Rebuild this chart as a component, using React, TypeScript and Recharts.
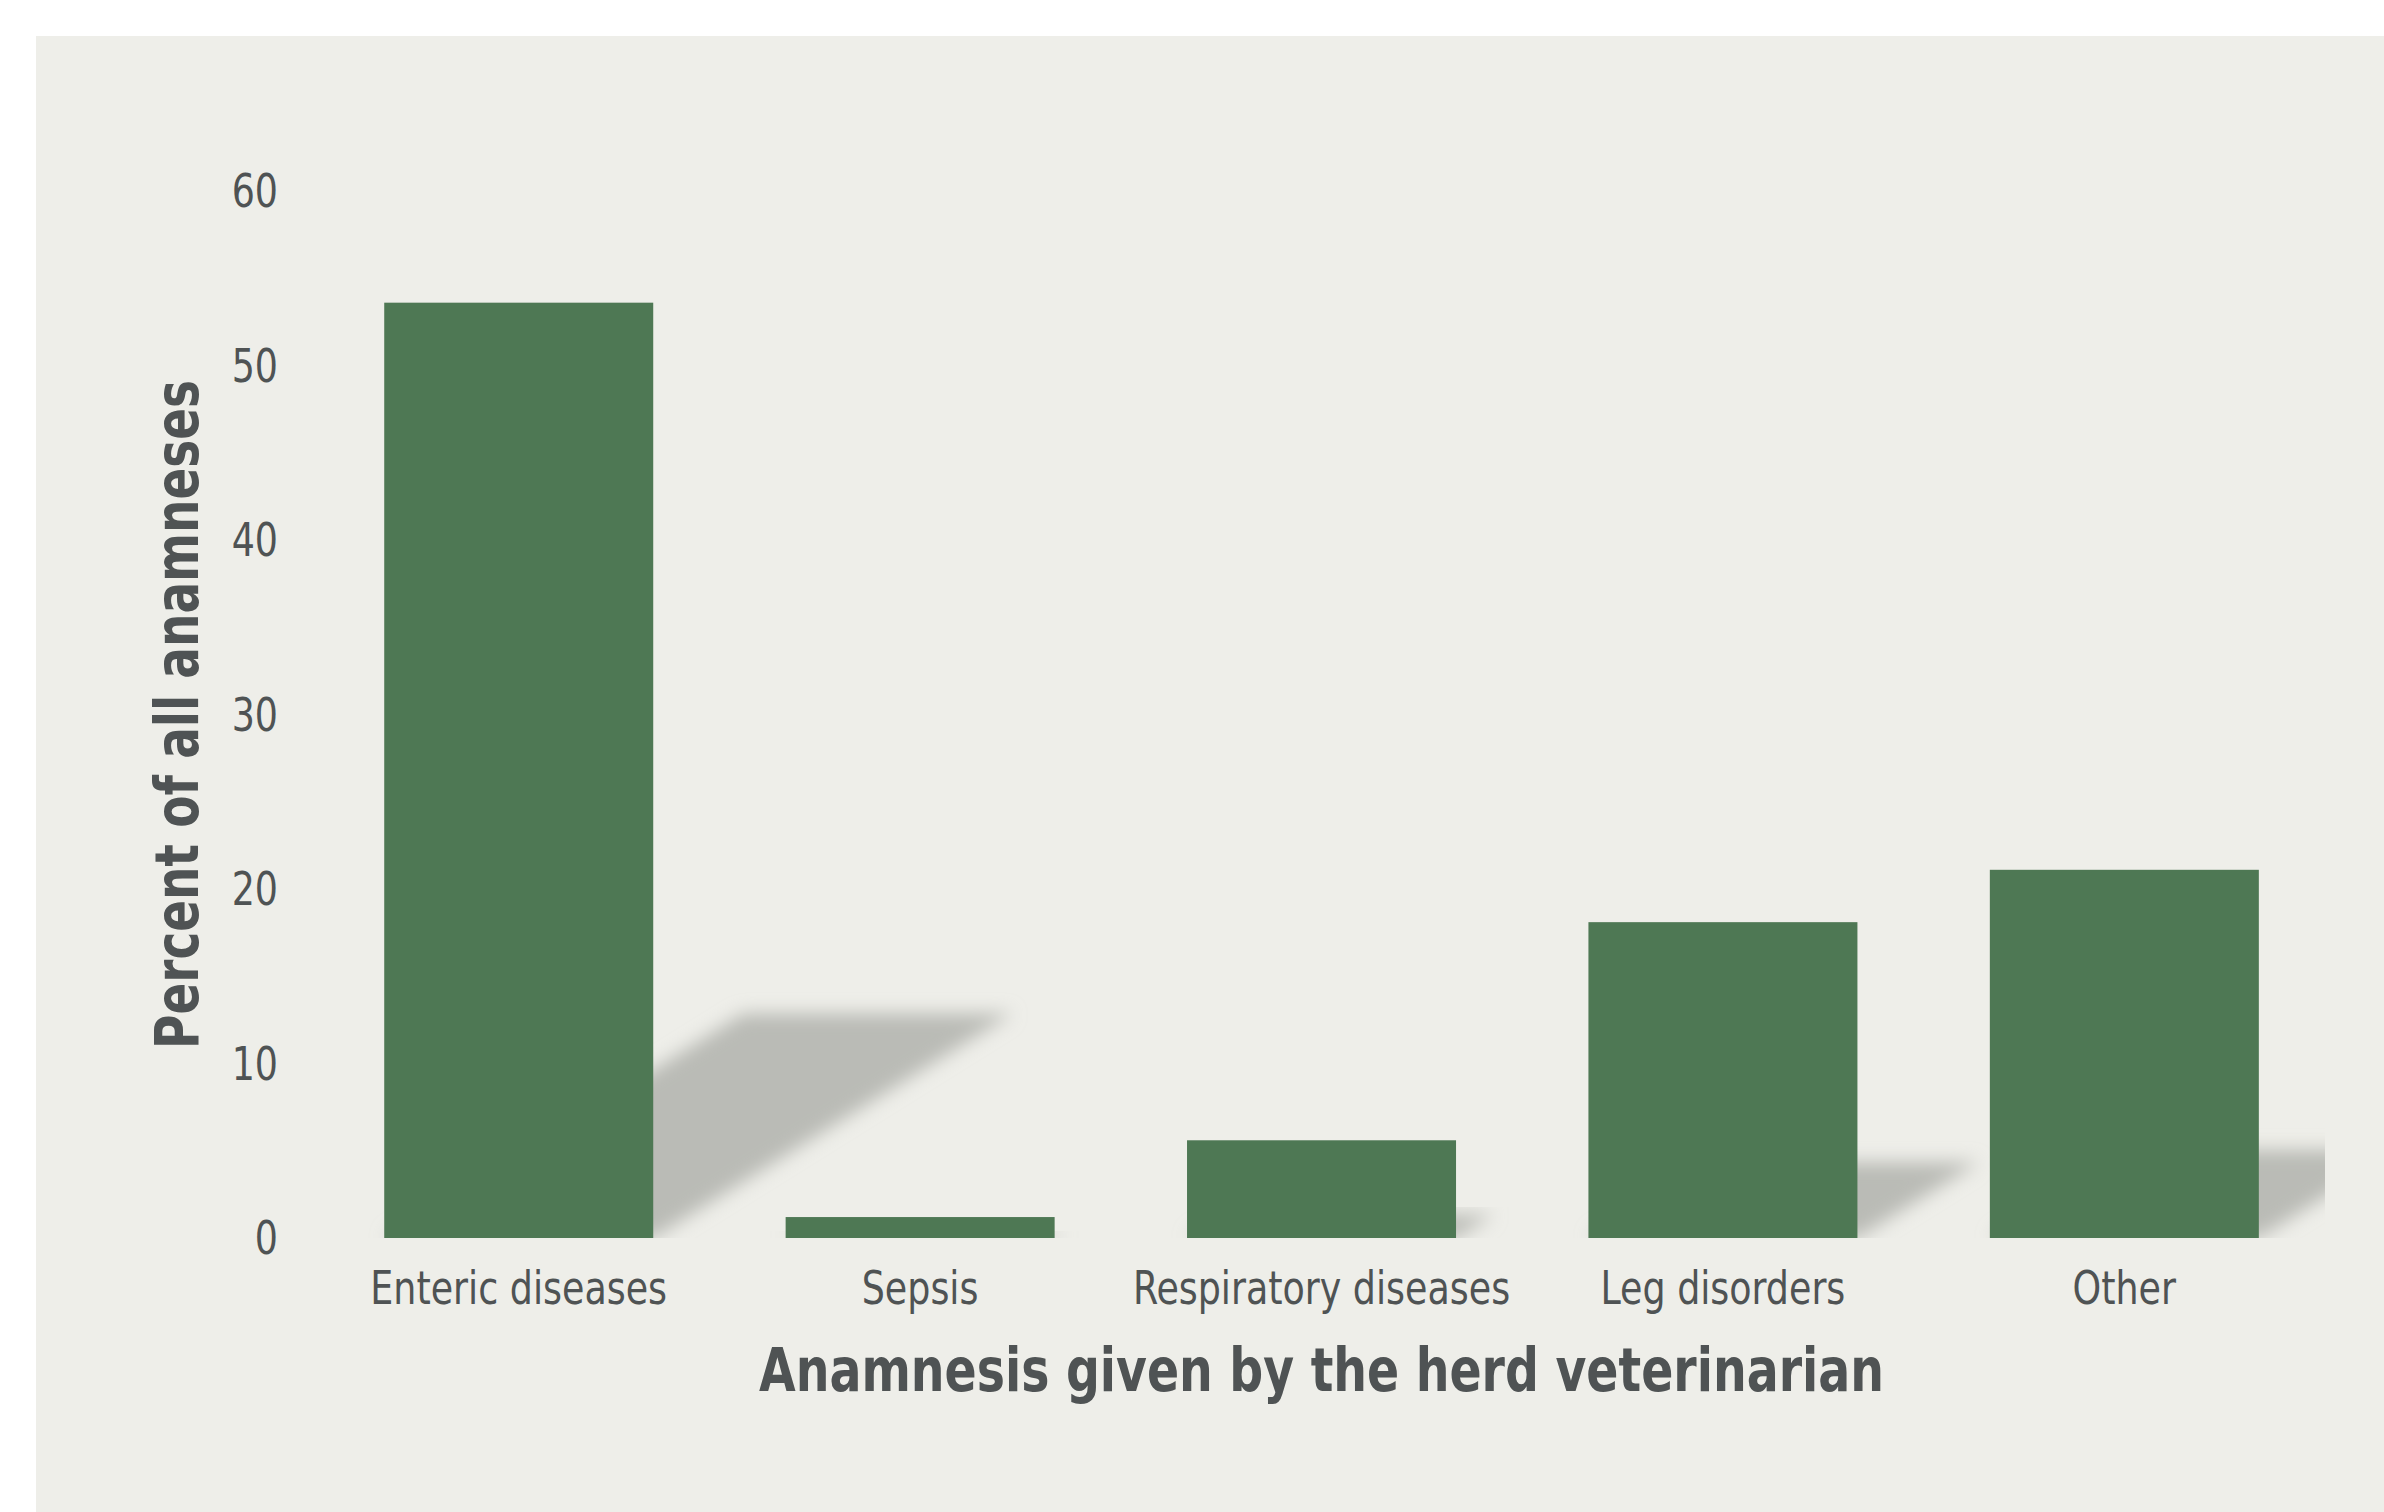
import React from "react";
import { BarChart, Bar, XAxis, YAxis, Label } from "recharts";

const CATEGORIES = [
  "Enteric diseases",
  "Sepsis",
  "Respiratory diseases",
  "Leg disorders",
  "Other",
];
const PERCENT = [53.6, 1.2, 5.6, 18.1, 21.1];
const Y_TICKS = [0, 10, 20, 30, 40, 50, 60];

const DATA = CATEGORIES.map((name, i) => ({ name, v: PERCENT[i] }));

const GREEN = "#4e7854";
const PANEL = "#eeeee9";
const SHADOW = "#babbb6";
const TEXT = "#4f5354";
const FONT = "'DejaVu Sans Condensed', 'Liberation Sans Narrow', sans-serif";

const W = 2384;
const H = 1512;
const PLOT_RIGHT = 2325;
const SQUEEZE = 0.88;

// condensed tick text, squeezed sideways round its anchor
function Tick(props: any) {
  const { x, y, payload, textAnchor, dy, axis } = props;
  const isX = axis === "x";
  return (
    <g transform={`translate(${x},${y}) scale(${SQUEEZE},1)`}>
      <text
        x={0}
        y={0}
        dy={isX ? "0.71em" : "0.355em"}
        textAnchor={textAnchor}
        fill={TEXT}
        fontSize={46}
        fontFamily={FONT}
      >
        {payload.value}
      </text>
    </g>
  );
}

// bar with the soft sheared drop shadow behind it
function ShadowBar(props: any) {
  const { x, y, width, height, index } = props;
  if (!height || height <= 0) return null;
  const base = y + height;
  const sh = height * 0.24;
  const dx = sh * 1.6;
  const fid = `blur-${index}`;
  const cid = `clip-${index}`;
  const pts = [
    [x, base],
    [x + width, base],
    [x + width + dx, base - sh],
    [x + dx, base - sh],
  ]
    .map((p) => p.join(","))
    .join(" ");
  return (
    <g>
      <defs>
        <filter id={fid} x="-20%" y="-30%" width="140%" height="160%">
          <feGaussianBlur stdDeviation={9} />
        </filter>
        <clipPath id={cid}>
          <rect x={0} y={0} width={PLOT_RIGHT} height={base} />
        </clipPath>
      </defs>
      <g clipPath={`url(#${cid})`}>
        <polygon points={pts} fill={SHADOW} filter={`url(#${fid})`} />
      </g>
      <rect x={x} y={y} width={width} height={height} fill={GREEN} />
    </g>
  );
}

export default function App() {
  return (
    <div
      style={{
        position: "absolute",
        left: 0,
        top: 0,
        width: W,
        height: H,
        background: "#ffffff",
      }}
    >
      <div
        style={{
          position: "absolute",
          left: 36,
          top: 36,
          width: W - 36,
          height: H - 36,
          background: PANEL,
        }}
      />
      <div style={{ position: "absolute", left: 0, top: 0 }}>
        <BarChart
          width={W}
          height={H}
          data={DATA}
          margin={{ top: 191, right: W - PLOT_RIGHT, bottom: 114, left: 198 }}
          barCategoryGap="16.5%"
        >
          <XAxis
            dataKey="name"
            axisLine={false}
            tickLine={false}
            tickSize={0}
            tickMargin={33}
            height={160}
            interval={0}
            tick={(p: any) => <Tick {...p} axis="x" />}
          >
            <Label
              content={({ viewBox }: any) => (
                <text
                  x={viewBox.x + viewBox.width / 2}
                  y={viewBox.y + 153}
                  textAnchor="middle"
                  fill={TEXT}
                  fontSize={60}
                  fontWeight="bold"
                  fontFamily={FONT}
                  textLength={1125}
                  lengthAdjust="spacingAndGlyphs"
                >
                  Anamnesis given by the herd veterinarian
                </text>
              )}
            />
          </XAxis>
          <YAxis
            width={120}
            domain={[0, 60]}
            ticks={Y_TICKS}
            axisLine={false}
            tickLine={false}
            tickSize={0}
            tickMargin={40}
            tick={(p: any) => <Tick {...p} axis="y" />}
          >
            <Label
              content={({ viewBox }: any) => {
                const cy = viewBox.y + viewBox.height / 2;
                return (
                  <text
                    x={198}
                    y={cy}
                    transform={`rotate(-90, 198, ${cy})`}
                    textAnchor="middle"
                    fill={TEXT}
                    fontSize={60}
                    fontWeight="bold"
                    fontFamily={FONT}
                    textLength={669}
                    lengthAdjust="spacingAndGlyphs"
                  >
                    Percent of all anamneses
                  </text>
                );
              }}
            />
          </YAxis>
          <Bar dataKey="v" shape={ShadowBar} isAnimationActive={false} />
        </BarChart>
      </div>
    </div>
  );
}
